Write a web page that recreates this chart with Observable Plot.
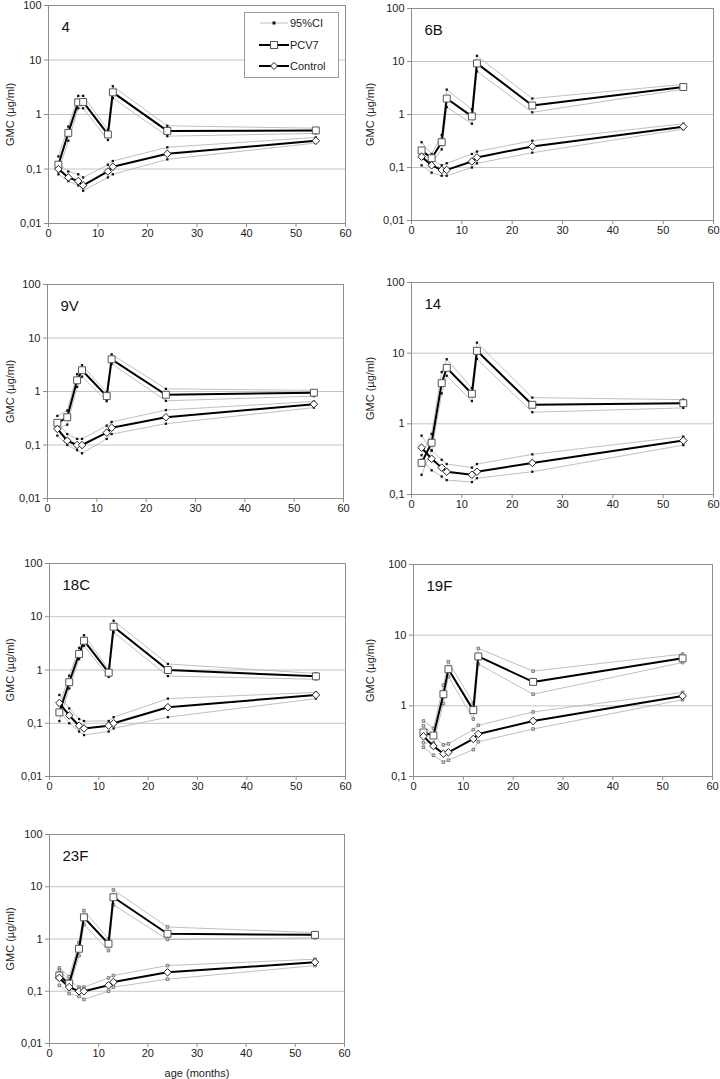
<!DOCTYPE html>
<html>
<head>
<meta charset="utf-8">
<script src="https://cdn.jsdelivr.net/npm/d3@7"></script>
<script src="https://cdn.jsdelivr.net/npm/@observablehq/plot@0.6"></script>
<style>
  html, body { margin: 0; padding: 0; background: #fff; }
  #root { position: relative; width: 720px; height: 1079px; overflow: hidden; background: #fff;
          font-family: "Liberation Sans", Arial, sans-serif; }
  .panel { position: absolute; }
  .legend { position: absolute; background: #fff; border: 1px solid #9a9a9a; box-sizing: border-box;
            font-size: 11px; color: #222; }
  .legend .row { position: absolute; left: 0; height: 14px; display: flex; align-items: center; }
  .legend svg { display: block; }
  .legend span { margin-left: 1px; }
</style>
</head>
<body>
<div id="root"></div>
<script>
// ---------- data ----------
const serotypes = ["4", "6B", "9V", "14", "18C", "19F", "23F"];
const ages = [2, 4, 6, 7, 12, 13, 24, 54];
const yMin = [0.01, 0.01, 0.01, 0.1, 0.01, 0.1, 0.01];
const xTicks = [0, 10, 20, 30, 40, 50, 60];
const yTickValues = [0.01, 0.1, 1, 10, 100];
const groups = ["PCV7", "Control"];
const ciLabel = "95%CI";
const yLabel = "GMC (µg/ml)";
const xLabel = "age (months)";

// PCV7 group GMC and 95% CI (one row per serotype, columns = ages)
const pcv7 = [
  [0.12, 0.46, 1.67, 1.7, 0.43, 2.55, 0.5, 0.51],
  [0.21, 0.15, 0.3, 2.0, 0.92, 9.2, 1.48, 3.3],
  [0.26, 0.33, 1.62, 2.5, 0.82, 4.0, 0.87, 0.95],
  [0.28, 0.54, 3.76, 6.2, 2.66, 10.8, 1.86, 1.96],
  [0.16, 0.59, 2.0, 3.55, 0.89, 6.5, 1.0, 0.76],
  [0.42, 0.38, 1.46, 3.3, 0.87, 5.0, 2.18, 4.7],
  [0.2, 0.14, 0.65, 2.6, 0.81, 6.3, 1.26, 1.2]
];
const pcv7Lo = [
  [0.09, 0.33, 1.3, 1.3, 0.34, 2.0, 0.4, 0.45],
  [0.16, 0.12, 0.22, 1.38, 0.67, 6.5, 1.1, 3.0],
  [0.2, 0.24, 1.22, 1.9, 0.66, 3.3, 0.67, 0.82],
  [0.19, 0.42, 2.7, 4.8, 2.1, 8.3, 1.46, 1.68],
  [0.11, 0.45, 1.6, 2.86, 0.74, 5.1, 0.77, 0.67],
  [0.3, 0.3, 1.08, 2.6, 0.65, 3.9, 1.46, 4.1],
  [0.17, 0.11, 0.48, 1.9, 0.6, 4.5, 0.98, 1.05]
];
const pcv7Hi = [
  [0.17, 0.6, 2.2, 2.2, 0.52, 3.3, 0.62, 0.56],
  [0.3, 0.18, 0.41, 2.95, 1.25, 12.8, 2.0, 3.7],
  [0.35, 0.44, 2.1, 3.1, 0.95, 4.95, 1.12, 1.05],
  [0.36, 0.72, 5.4, 8.2, 3.2, 14.1, 2.35, 2.2],
  [0.22, 0.78, 2.6, 4.5, 1.02, 8.4, 1.3, 0.86],
  [0.61, 0.48, 1.96, 4.2, 1.1, 6.5, 3.1, 5.4],
  [0.28, 0.19, 0.85, 3.5, 1.0, 8.7, 1.7, 1.32]
];
// Control group GMC and 95% CI
const ctrl = [
  [0.1, 0.07, 0.06, 0.05, 0.09, 0.11, 0.19, 0.33],
  [0.16, 0.11, 0.09, 0.09, 0.13, 0.155, 0.25, 0.59],
  [0.2, 0.12, 0.1, 0.1, 0.17, 0.21, 0.33, 0.58],
  [0.46, 0.32, 0.24, 0.21, 0.19, 0.21, 0.28, 0.58],
  [0.24, 0.14, 0.09, 0.08, 0.09, 0.1, 0.2, 0.34],
  [0.37, 0.27, 0.21, 0.22, 0.34, 0.4, 0.61, 1.38],
  [0.18, 0.12, 0.1, 0.1, 0.13, 0.15, 0.23, 0.36]
];
const ctrlLo = [
  [0.08, 0.06, 0.05, 0.04, 0.07, 0.08, 0.15, 0.3],
  [0.11, 0.08, 0.07, 0.07, 0.1, 0.12, 0.19, 0.53],
  [0.15, 0.1, 0.08, 0.07, 0.13, 0.16, 0.25, 0.5],
  [0.31, 0.22, 0.18, 0.16, 0.15, 0.17, 0.21, 0.5],
  [0.17, 0.1, 0.07, 0.06, 0.07, 0.08, 0.13, 0.29],
  [0.26, 0.2, 0.16, 0.17, 0.24, 0.31, 0.47, 1.22],
  [0.13, 0.09, 0.08, 0.07, 0.1, 0.12, 0.17, 0.31]
];
const ctrlHi = [
  [0.13, 0.09, 0.08, 0.07, 0.12, 0.14, 0.25, 0.38],
  [0.22, 0.14, 0.11, 0.12, 0.18, 0.2, 0.32, 0.67],
  [0.27, 0.16, 0.13, 0.13, 0.23, 0.27, 0.45, 0.65],
  [0.68, 0.42, 0.31, 0.27, 0.24, 0.27, 0.37, 0.66],
  [0.34, 0.19, 0.12, 0.11, 0.11, 0.13, 0.29, 0.38],
  [0.52, 0.38, 0.28, 0.29, 0.46, 0.53, 0.82, 1.55],
  [0.25, 0.16, 0.12, 0.12, 0.18, 0.2, 0.31, 0.41]
];

// ---------- layout (page pixel rectangles of each plot area) ----------
const layout = [
  {col: 0, L: 48,  R: 345, T: 5,   B: 223},
  {col: 1, L: 411, R: 713, T: 8,   B: 220},
  {col: 0, L: 47,  R: 343, T: 284, B: 498},
  {col: 1, L: 411, R: 713, T: 282, B: 494},
  {col: 0, L: 49,  R: 345, T: 563, B: 776},
  {col: 1, L: 413, R: 712, T: 564, B: 776},
  {col: 0, L: 49,  R: 344, T: 834, B: 1043}
];

const root = document.getElementById("root");
const fmt = d => String(d).replace(".", ",");

serotypes.forEach((sero, i) => {
  const rows = [];
  ages.forEach((a, j) => {
    rows.push({age: a, group: groups[0], gmc: pcv7[i][j], lo: pcv7Lo[i][j], hi: pcv7Hi[i][j]});
    rows.push({age: a, group: groups[1], gmc: ctrl[i][j], lo: ctrlLo[i][j], hi: ctrlHi[i][j]});
  });
  const rowsP = rows.filter(d => d.group === groups[0]);
  const rowsC = rows.filter(d => d.group === groups[1]);
  const lay = layout[i];
  const colX = lay.col * 360;
  const mTop = 7;
  const last = i === serotypes.length - 1;
  const mBottom = last ? 36 : 24;
  const mLeft = lay.L - colX;
  const mRight = colX + 360 - lay.R;
  const yT = yTickValues.filter(v => v >= yMin[i]);
  const grid = yT.filter(v => v > yMin[i] && v < 100);
  const hollowCI = i >= 5;

  const chart = Plot.plot({
    width: 360,
    height: (lay.B - lay.T) + mTop + mBottom,
    marginLeft: mLeft, marginRight: mRight, marginTop: mTop, marginBottom: mBottom,
    style: {fontFamily: "'Liberation Sans', Arial, sans-serif", fontSize: "11px", background: "transparent", color: "#222"},
    x: {domain: [0, 60]},
    y: {type: "log", domain: [yMin[i], 100]},
    marks: [
      Plot.gridY(grid, {stroke: "#c4c4c4", strokeOpacity: 1, strokeWidth: 1}),
      Plot.frame({stroke: "#8e8e8e"}),
      Plot.axisX({ticks: xTicks, tickSize: 4, tickPadding: 2, stroke: "#8e8e8e", fill: "#222",
                  label: last ? xLabel : null, labelAnchor: "center", labelOffset: 33, labelArrow: "none"}),
      Plot.axisY({ticks: yT, tickFormat: fmt, tickSize: 4, tickPadding: 3, stroke: "#8e8e8e", fill: "#222",
                  label: yLabel, labelAnchor: "center", labelOffset: mLeft - 6, labelArrow: "none"}),
      Plot.line(rows, {x: "age", y: "lo", z: "group", stroke: "#b0b0b0", strokeWidth: 0.8}),
      Plot.line(rows, {x: "age", y: "hi", z: "group", stroke: "#b0b0b0", strokeWidth: 0.8}),
      Plot.dot(rows, {x: "age", y: "lo", symbol: "square", r: hollowCI ? 1.5 : 1.3,
                      fill: hollowCI ? "#d8d8d8" : "#111", stroke: hollowCI ? "#555" : "none", strokeWidth: 0.7}),
      Plot.dot(rows, {x: "age", y: "hi", symbol: "square", r: hollowCI ? 1.5 : 1.3,
                      fill: hollowCI ? "#d8d8d8" : "#111", stroke: hollowCI ? "#555" : "none", strokeWidth: 0.7}),
      Plot.line(rows, {x: "age", y: "gmc", z: "group", stroke: "#000", strokeWidth: 2}),
      Plot.dot(rowsP, {x: "age", y: "gmc", symbol: "square", r: 3.9, fill: "#fff", stroke: "#555", strokeWidth: 1}),
      Plot.dot(rowsC, {x: "age", y: "gmc", symbol: "diamond2", r: 3.4, fill: "#fff", stroke: "#222", strokeWidth: 1}),
      Plot.text([sero], {frameAnchor: "top-left", dx: 13, dy: 16, textAnchor: "start", lineAnchor: "top",
                         fontSize: 15, fill: "#111"})
    ]
  });
  const wrap = document.createElement("div");
  wrap.className = "panel";
  wrap.style.left = colX + "px";
  wrap.style.top = (lay.T - mTop) + "px";
  wrap.appendChild(chart);
  root.appendChild(wrap);
});

// ---------- legend (inside first panel) ----------
const legend = document.createElement("div");
legend.className = "legend";
Object.assign(legend.style, {left: "244px", top: "12px", width: "95px", height: "66px"});
const entries = [
  {label: ciLabel, y: 3, kind: "ci"},
  {label: groups[0], y: 25, kind: "sq"},
  {label: groups[1], y: 46, kind: "dia"}
];
entries.forEach(e => {
  const row = document.createElement("div");
  row.className = "row";
  row.style.top = e.y + "px";
  row.style.left = "14px";
  let svg = `<svg width="30" height="14" viewBox="0 0 30 14">`;
  if (e.kind === "ci") {
    svg += `<line x1="1" y1="7" x2="29" y2="7" stroke="#b0b0b0" stroke-width="0.8"/>`;
    svg += `<rect x="13.5" y="5.5" width="3" height="3" fill="#111"/>`;
  } else if (e.kind === "sq") {
    svg += `<line x1="0" y1="7" x2="30" y2="7" stroke="#000" stroke-width="2"/>`;
    svg += `<rect x="11.5" y="3.5" width="7" height="7" fill="#fff" stroke="#555"/>`;
  } else {
    svg += `<line x1="0" y1="7" x2="30" y2="7" stroke="#000" stroke-width="2"/>`;
    svg += `<path d="M15 3.5 L18.5 7 L15 10.5 L11.5 7 Z" fill="#fff" stroke="#222"/>`;
  }
  svg += `</svg>`;
  row.innerHTML = svg + `<span>${e.label}</span>`;
  legend.appendChild(row);
});
root.appendChild(legend);
</script>
</body>
</html>
